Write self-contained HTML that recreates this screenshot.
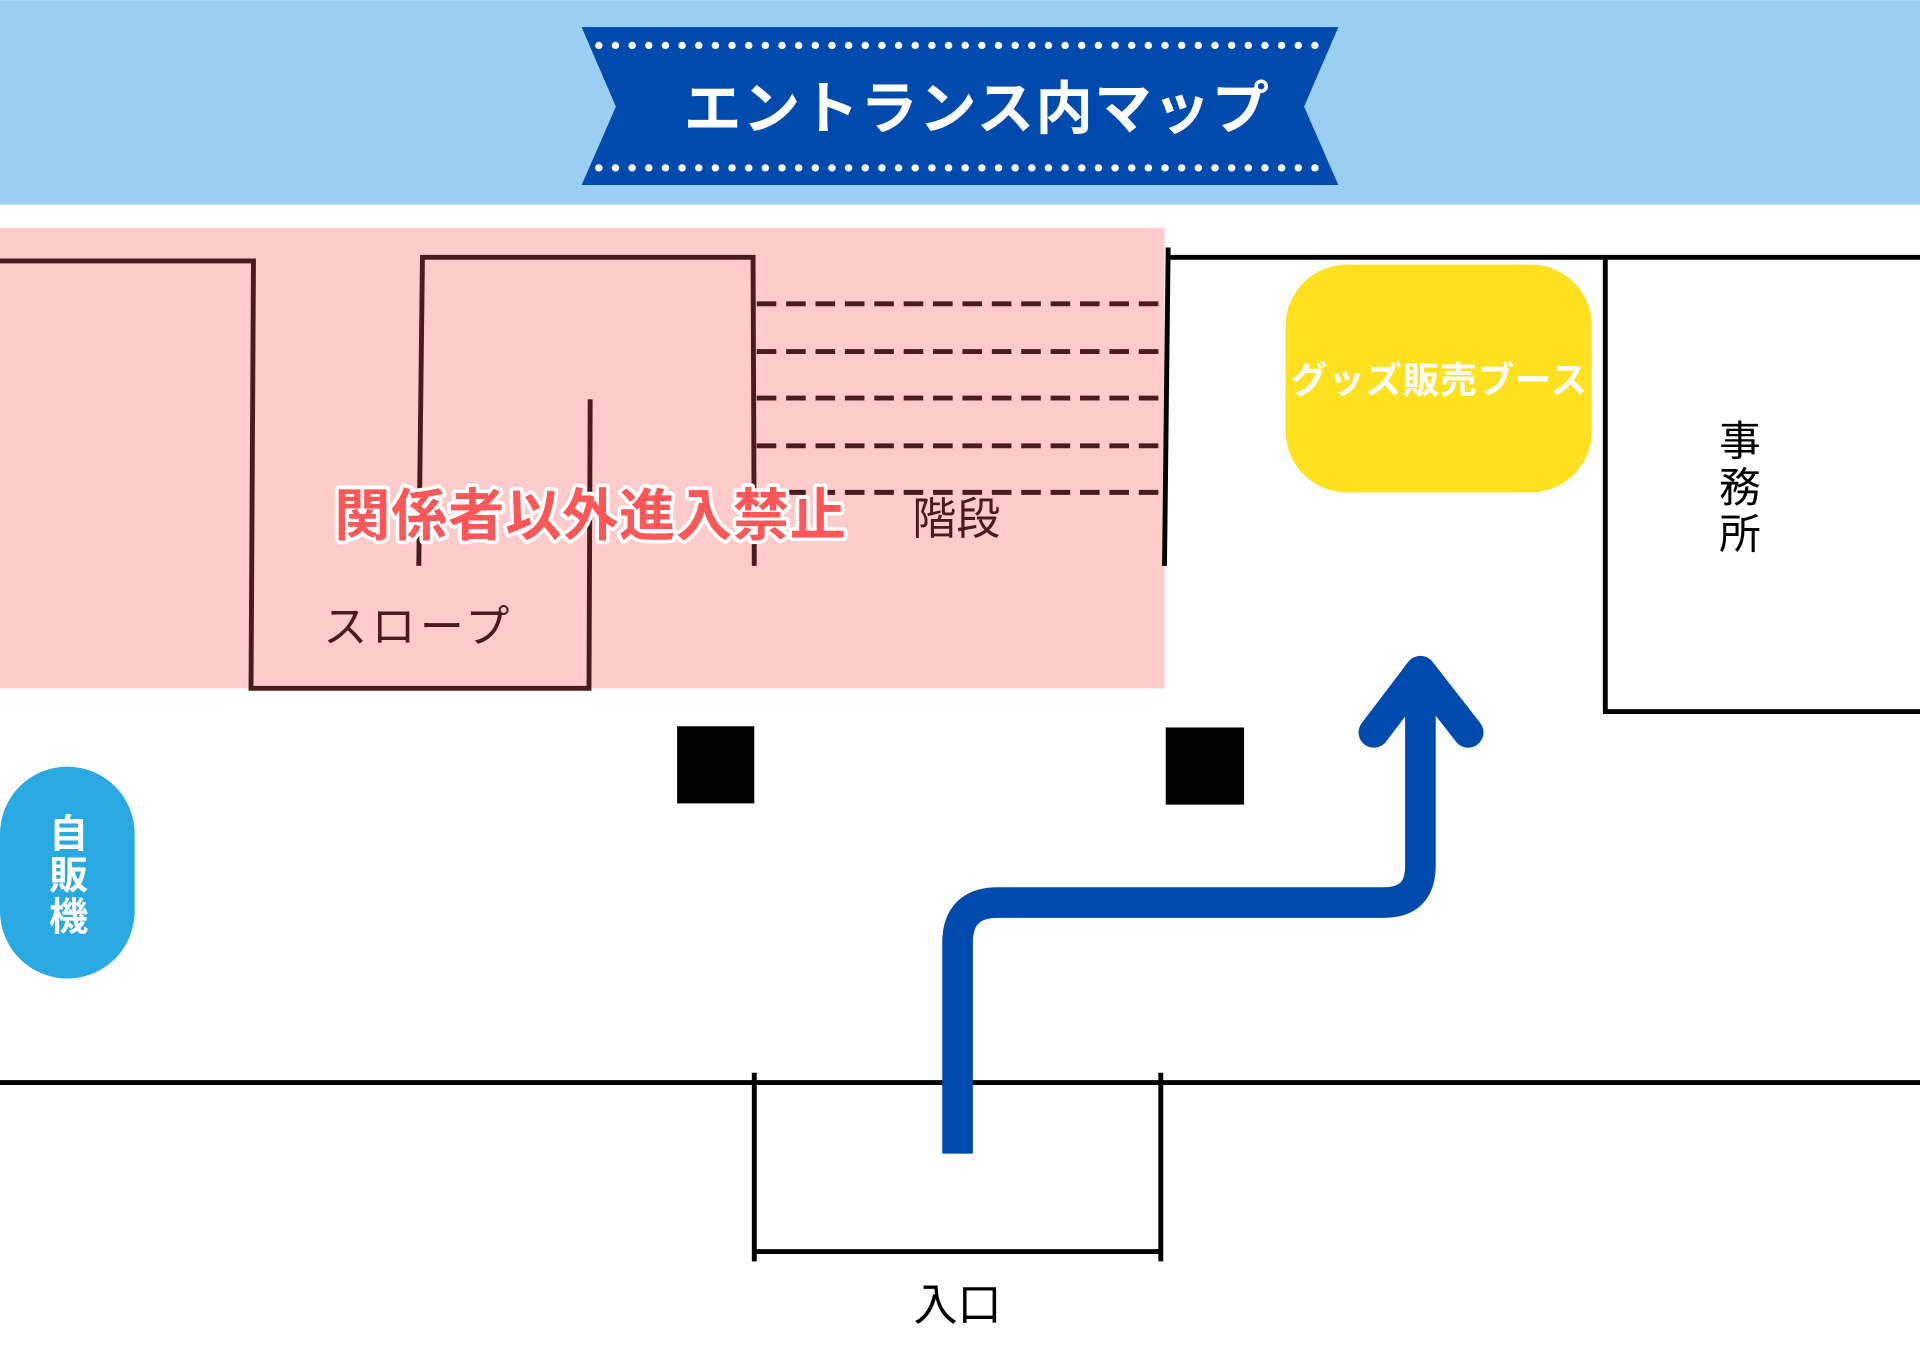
<!DOCTYPE html>
<html><head><meta charset="utf-8"><style>html,body{margin:0;padding:0;background:#fff}svg{display:block}</style></head>
<body>
<svg width="1920" height="1357" viewBox="0 0 1568 1108" xmlns="http://www.w3.org/2000/svg" font-family="'Liberation Sans','Noto Sans CJK JP',sans-serif">
<rect width="1568" height="1108" fill="#fff"/>
<rect x="0" y="0" width="1568" height="167" fill="#9ACFF2"/>
<polygon points="475,22 1093,22 1065,87 1093,151 475,151 503,87" fill="#004AAD"/>
<line x1="489" y1="37" x2="1083" y2="37" stroke="#fff" stroke-width="6" stroke-linecap="round" stroke-dasharray="0.1 13.5"/>
<line x1="489" y1="137" x2="1083" y2="137" stroke="#fff" stroke-width="6" stroke-linecap="round" stroke-dasharray="0.1 13.5"/>
<text x="798" y="105" text-anchor="middle" font-size="47" font-weight="bold" fill="#fff" letter-spacing="1">エントランス内マップ</text>
<rect x="0" y="186" width="951" height="376" fill="#FFCBCB"/>
<g stroke="#4B1C1C" stroke-width="4" fill="none">
<polyline points="0,213 207,213 205,562 481,562 482,326"/>
<polyline points="342,462 345,210 615,210 616,462"/>
<g stroke-dasharray="16 8">
<line x1="618" y1="248" x2="946" y2="248"/><line x1="618" y1="287" x2="946" y2="287"/>
<line x1="618" y1="325" x2="946" y2="325"/><line x1="618" y1="364" x2="946" y2="364"/>
<line x1="618" y1="402" x2="946" y2="402"/></g>
</g>
<g stroke="#000" stroke-width="4" fill="none">
<line x1="954" y1="202" x2="951" y2="462"/>
<line x1="954" y1="210" x2="1568" y2="210"/>
<polyline points="1311,210 1311,581 1568,581"/>
<line x1="0" y1="884" x2="1568" y2="884"/>
<line x1="616" y1="876" x2="616" y2="1030"/><line x1="948" y1="876" x2="948" y2="1030"/>
<line x1="616" y1="1022" x2="948" y2="1022"/>
</g>
<rect x="1050" y="216" width="250" height="186" rx="50" fill="#FFE11F"/>
<text x="1175" y="321" text-anchor="middle" font-size="30" font-weight="bold" fill="#fff" textLength="242">グッズ販売ブース</text>
<g font-size="34" fill="#000" text-anchor="middle"><text x="1421" y="372">事</text><text x="1421" y="410">務</text><text x="1421" y="448">所</text></g>
<rect x="553" y="593" width="63" height="63" fill="#000"/>
<rect x="952" y="594" width="64" height="63" fill="#000"/>
<rect x="0" y="626" width="110" height="173" rx="55" fill="#29A9E1"/>
<g font-size="32" font-weight="bold" fill="#fff" text-anchor="middle"><text x="56" y="692">自</text><text x="56" y="726">販</text><text x="56" y="760">機</text></g>
<path d="M782,942 V770 Q782,737 815,737 H1130 Q1160,737 1160,707 V550" stroke="#004AAD" stroke-width="25" fill="none"/>
<polyline points="1122,598 1160,548 1199,598" stroke="#004AAD" stroke-width="25" fill="none" stroke-linecap="round" stroke-linejoin="round"/>
<text x="273" y="437" font-size="46" font-weight="bold" fill="#FF5757" stroke="#fff" stroke-width="6" paint-order="stroke" stroke-linejoin="round" textLength="418">関係者以外進入禁止</text>
<text x="745" y="436" font-size="36" fill="#4B1C1C">階段</text>
<text x="264" y="524" font-size="36" fill="#4B1C1C" textLength="152">スロープ</text>
<text x="746" y="1078" font-size="36" fill="#000">入口</text>
</svg>
</body></html>
